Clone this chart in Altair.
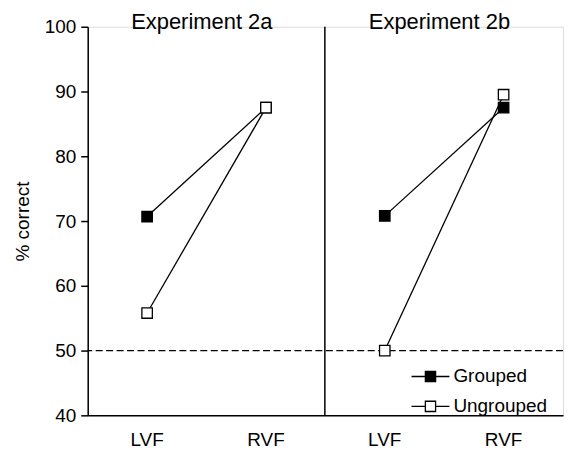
import altair as alt
import pandas as pd

experiments = ["Experiment 2a", "Experiment 2b"]
fields = ["LVF", "RVF"]
groups = ["Grouped", "Ungrouped"]
grouped = [70.7, 87.5, 70.8, 87.5]
ungrouped = [55.8, 87.5, 50.0, 89.5]
chance = 50
y_ticks = [40, 50, 60, 70, 80, 90, 100]

keys = [f"{e}|{f}" for e in experiments for f in fields]
rows = []
for i, k in enumerate(keys):
    e, f = k.split("|")
    rows.append({"key": k, "exp": e, "field": f, "group": "Grouped", "value": grouped[i]})
    rows.append({"key": k, "exp": e, "field": f, "group": "Ungrouped", "value": ungrouped[i]})
df = pd.DataFrame(rows)
df["series"] = df["exp"] + df["group"]

titles = pd.DataFrame({"key": [f"{e}|LVF" for e in experiments], "text": experiments})

W, H = 477, 390
FONT = "Liberation Sans"

x_enc = alt.X(
    "key:N", sort=keys,
    scale=alt.Scale(type="band", paddingInner=0, paddingOuter=0),
    axis=alt.Axis(
        labelExpr="split(datum.value, '|')[1]", ticks=False, labelAngle=0,
        labelFontSize=19, labelPadding=15, domainColor="black", domainWidth=1.5,
        labelColor="black", title=None, labelFont=FONT,
    ),
)
y_enc = alt.Y(
    "value:Q",
    scale=alt.Scale(domain=[40, 100], nice=False, zero=False),
    axis=alt.Axis(
        values=y_ticks, tickSize=7, tickColor="black", tickWidth=1.5,
        domainColor="black", domainWidth=1.5, labelFontSize=19, labelColor="black",
        labelPadding=5, grid=False, title="% correct", titleFontSize=19,
        titleFontWeight="normal", titleColor="black", titlePadding=12,
        labelFont=FONT, titleFont=FONT,
    ),
)

base = alt.Chart(df)

lines = base.mark_line(color="black", strokeWidth=1.3).encode(
    x=x_enc, y=y_enc, detail="series:N"
)

legend_symbol = "M-1,0H-0.27M0.27,0H1M-0.27,-0.27H0.27V0.27H-0.27Z"

points = base.mark_square(size=110, stroke="black", strokeWidth=1.3, opacity=1).encode(
    x=x_enc, y=y_enc,
    fill=alt.Fill(
        "group:N", sort=groups,
        scale=alt.Scale(domain=groups, range=["black", "white"]),
        legend=alt.Legend(
            orient="none", legendX=324, legendY=331, title=None,
            symbolType=legend_symbol, symbolSize=1444,
            symbolStrokeColor="black", symbolStrokeWidth=1.3, symbolOpacity=1,
            labelFontSize=19, labelFont=FONT, labelColor="black", labelOffset=3,
            rowPadding=-2, padding=0,
        ),
    ),
)

chance_line = alt.Chart(pd.DataFrame({"y": [chance]})).mark_rule(
    color="black", strokeWidth=1.2, strokeDash=[7, 3.5], opacity=1
).encode(y=alt.Y("y:Q", scale=alt.Scale(domain=[40, 100], nice=False, zero=False)))

divider = alt.Chart(pd.DataFrame({"d": [0]})).mark_rule(
    color="black", strokeWidth=1.5
).encode(x=alt.value(238), y=alt.value(0), y2=alt.value(H))

title_text = alt.Chart(titles).mark_text(
    align="left", baseline="alphabetic", dx=-16, fontSize=22, font=FONT, color="black"
).encode(x=alt.X("key:N", sort=keys), y=alt.value(2), text="text:N")

chart = alt.layer(chance_line, divider, lines, points, title_text).properties(
    width=W, height=H, padding={"top": 2, "left": 5, "right": 0, "bottom": 5}
).configure_view(stroke=None).configure(font=FONT)

chart.save("out.html", embed_options={"renderer": "svg", "actions": False})
